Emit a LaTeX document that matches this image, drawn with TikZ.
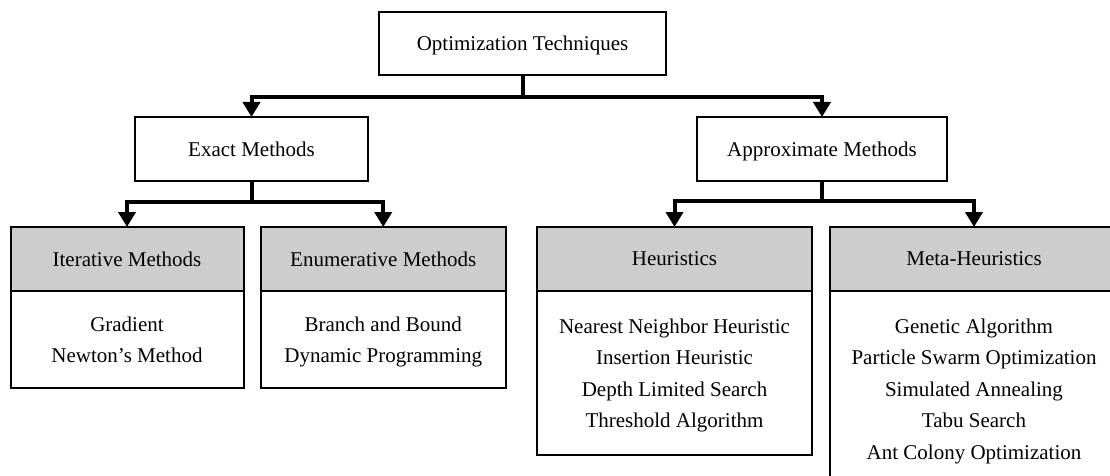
\documentclass[tikz,border=0pt]{standalone}
\usepackage{fontspec}
\setmainfont{Liberation Serif}
\usetikzlibrary{arrows.meta}
\definecolor{headgray}{RGB}{205,205,205}
\newcommand{\boxfont}{\fontsize{21}{31.5}\selectfont}
\tikzset{
  box/.style={draw, line width=2pt, fill=white, inner sep=0pt, outer sep=0pt,
              align=center, font=\boxfont, text depth=0pt},
  headbox/.style={box, fill=headgray, minimum height=64pt},
  link/.style={line width=4pt, -{Triangle[length=15pt,width=17pt]}},
}
\begin{document}
\begin{tikzpicture}[x=1pt, y=-1pt]
\useasboundingbox (0,0) rectangle (1110,476);
\clip (0,0) rectangle (1110,476);

% root and the two families of methods
\node[box, minimum width=287pt, minimum height=63pt] (root) at (522.5,43.5) {Optimization Techniques};
\node[box, minimum width=233pt, minimum height=64pt] (exact) at (251.5,149) {Exact Methods};
\node[box, minimum width=250pt, minimum height=64pt] (approx) at (822,149) {Approximate Methods};

% exact methods: headers and contents
\node[headbox, minimum width=233pt] (iterH) at (127,259) {Iterative Methods};
\node[box, minimum width=233pt, minimum height=97pt, anchor=north] (iterB) at (iterH.south)
  {Gradient\\Newton’s Method};
\node[headbox, minimum width=244.5pt] (enumH) at (383.25,259) {Enumerative Methods};
\node[box, minimum width=244.5pt, minimum height=97pt, anchor=north] (enumB) at (enumH.south)
  {Branch and Bound\\Dynamic Programming};

% approximate methods: headers and contents
\node[headbox, minimum width=275pt] (heurH) at (674.5,259) {Heuristics};
\node[box, minimum width=275pt, minimum height=164pt, anchor=north] (heurB) at (heurH.south)
  {Nearest Neighbor Heuristic\\Insertion Heuristic\\Depth Limited Search\\Threshold Algorithm};
\node[headbox, minimum width=288pt] (metaH) at (974,259) {Meta-Heuristics};
\node[box, minimum width=288pt, minimum height=196pt, anchor=north] (metaB) at (metaH.south)
  {Genetic Algorithm\\Particle Swarm Optimization\\Simulated Annealing\\Tabu Search\\Ant Colony Optimization};

% connectors
\draw[link] (root.south) -- ++(0,22) -| (exact.north);
\draw[link] (root.south) -- ++(0,22) -| (approx.north);
\draw[link] (exact.south) -- ++(0,21) -| (iterH.north);
\draw[link] (exact.south) -- ++(0,21) -| (enumH.north);
\draw[link] (approx.south) -- ++(0,20) -| (heurH.north);
\draw[link] (approx.south) -- ++(0,20) -| (metaH.north);
\end{tikzpicture}
\end{document}
